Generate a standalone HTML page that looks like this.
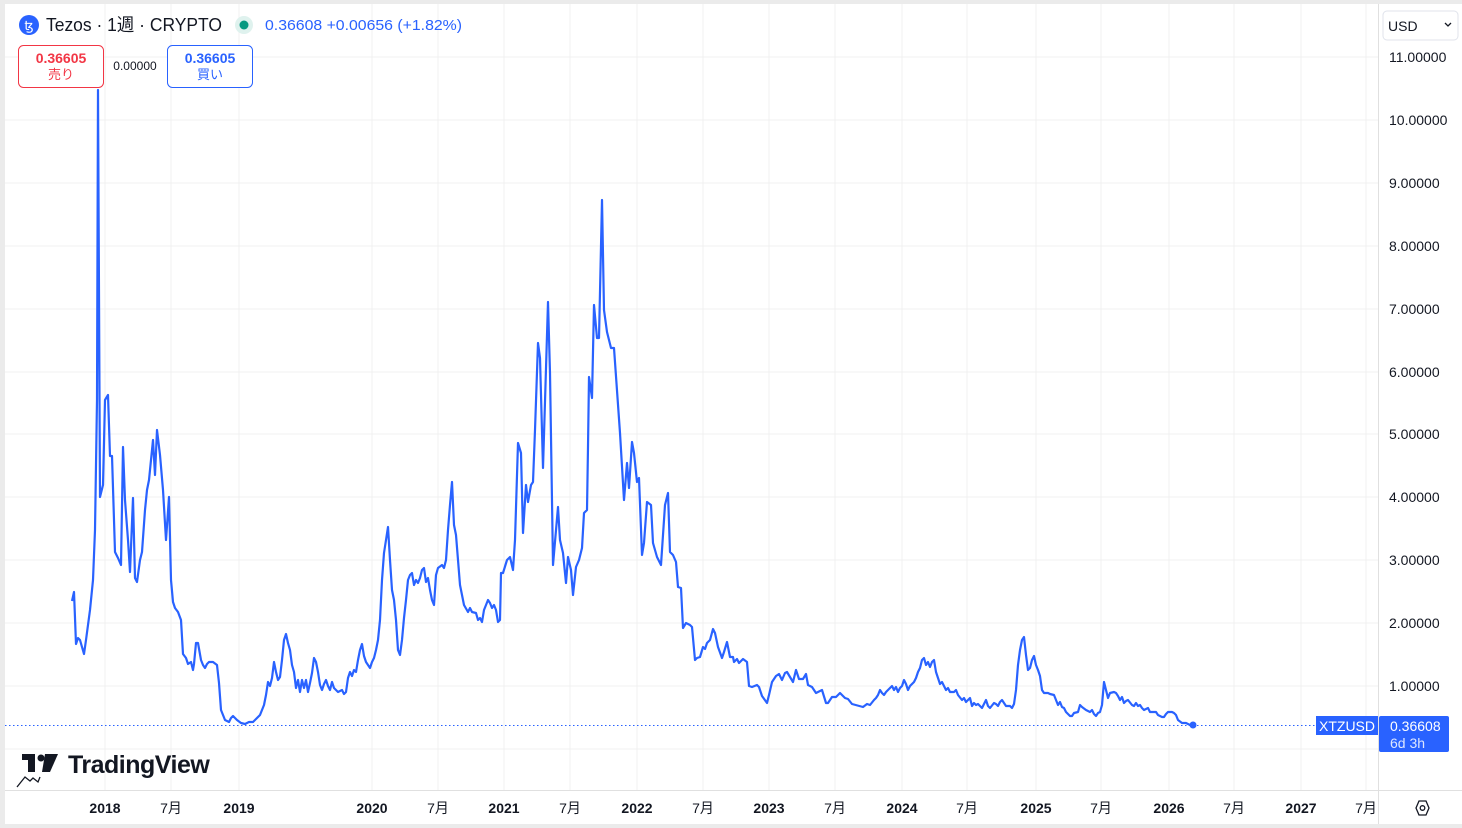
<!DOCTYPE html>
<html><head><meta charset="utf-8"><style>
*{margin:0;padding:0;box-sizing:border-box}
body{width:1462px;height:828px;background:#ebebeb;overflow:hidden;font-family:"Liberation Sans","Noto Sans CJK JP",sans-serif;position:relative}
.panel{position:absolute;left:5px;top:4px;width:1457px;height:820px;background:#fff}
</style></head><body>
<div class="panel"></div>
<svg width="1462" height="828" style="position:absolute;left:0;top:0" font-family="Liberation Sans, Noto Sans CJK JP, sans-serif">
<g stroke="#f0f0f0" stroke-width="1">
<line x1="5" x2="1378" y1="57" y2="57"/><line x1="5" x2="1378" y1="120" y2="120"/><line x1="5" x2="1378" y1="183" y2="183"/><line x1="5" x2="1378" y1="246" y2="246"/><line x1="5" x2="1378" y1="309" y2="309"/><line x1="5" x2="1378" y1="372" y2="372"/><line x1="5" x2="1378" y1="434" y2="434"/><line x1="5" x2="1378" y1="497" y2="497"/><line x1="5" x2="1378" y1="560" y2="560"/><line x1="5" x2="1378" y1="623" y2="623"/><line x1="5" x2="1378" y1="686" y2="686"/><line x1="5" x2="1378" y1="749" y2="749"/>
<line x1="105" x2="105" y1="4" y2="790"/><line x1="171" x2="171" y1="4" y2="790"/><line x1="239" x2="239" y1="4" y2="790"/><line x1="372" x2="372" y1="4" y2="790"/><line x1="438" x2="438" y1="4" y2="790"/><line x1="504" x2="504" y1="4" y2="790"/><line x1="570" x2="570" y1="4" y2="790"/><line x1="637" x2="637" y1="4" y2="790"/><line x1="703" x2="703" y1="4" y2="790"/><line x1="769" x2="769" y1="4" y2="790"/><line x1="835" x2="835" y1="4" y2="790"/><line x1="902" x2="902" y1="4" y2="790"/><line x1="967" x2="967" y1="4" y2="790"/><line x1="1036" x2="1036" y1="4" y2="790"/><line x1="1101" x2="1101" y1="4" y2="790"/><line x1="1169" x2="1169" y1="4" y2="790"/><line x1="1234" x2="1234" y1="4" y2="790"/><line x1="1301" x2="1301" y1="4" y2="790"/><line x1="1366" x2="1366" y1="4" y2="790"/>
</g>
<line x1="5" x2="1462" y1="790.5" y2="790.5" stroke="#e0e0e0"/>
<line x1="1378.5" x2="1378.5" y1="4" y2="824" stroke="#e0e0e0"/>
<line x1="5" x2="1378" y1="725.5" y2="725.5" stroke="#2962ff" stroke-dasharray="1.5,2.5"/>
<polyline fill="none" stroke="#2962ff" stroke-width="2.2" stroke-linejoin="round" points="72,601 74,592 76,644 78,638 80,640 84,654 86,640 90,610 93,580 95,530 97,400 98,90 100,497 103,485 105,400 108,395 110,456 112,456 115,552 118,558 121,565 123,447 125,500 128,540 130,572 133,498 135,578 137,582 140,560 142,552 145,510 147,490 149,480 151,460 153,440 155,475 157,430 160,455 163,490 166,540 169,497 171,580 173,602 175,608 178,612 181,620 183,654 186,658 188,664 191,662 193,670 194,664 196,643 198,643 201,660 203,665 205,668 207,664 209,662 213,662 217,665 219,683 221,710 223,715 225,720 229,722 231,718 233,716 237,720 241,723 245,724 249,722 253,722 257,718 260,715 262,710 264,705 266,695 268,682 270,686 272,678 274,662 276,672 278,680 280,677 282,660 284,640 286,634 288,643 290,650 292,665 294,672 296,688 298,680 300,692 302,680 304,688 306,680 308,692 310,683 312,673 314,658 316,662 318,672 320,685 322,690 324,684 326,680 328,686 330,690 332,682 334,688 338,692 342,690 344,694 346,692 348,678 350,672 352,676 354,670 356,672 358,660 360,650 362,644 364,656 366,662 370,668 372,662 374,658 376,650 378,640 380,620 382,580 384,553 386,540 388,527 390,560 392,590 394,600 396,620 398,650 400,655 402,640 404,618 406,600 408,580 410,575 412,573 414,585 416,580 418,583 420,578 422,570 424,568 426,582 428,578 430,590 432,600 434,605 436,575 438,568 442,565 444,568 446,560 448,530 450,505 452,482 454,525 456,535 458,560 460,585 462,595 464,605 468,612 470,608 472,612 476,613 478,620 480,618 482,622 484,610 488,600 490,603 492,608 494,605 496,610 498,622 500,620 501,573 503,573 507,560 510,557 513,570 515,540 518,443 521,453 523,533 526,485 528,502 531,485 533,482 535,430 538,343 540,358 543,468 548,302 550,373 553,565 558,507 560,540 563,553 566,583 568,557 571,570 573,595 576,567 579,560 582,548 584,513 587,510 588,447 589,377 592,398 594,305 597,338 599,338 602,200 604,310 607,332 611,348 614,348 620,433 624,500 627,463 629,488 632,442 634,453 637,482 639,478 642,555 644,543 647,502 651,505 653,543 657,557 661,565 665,505 668,493 670,552 673,555 676,562 678,587 681,588 683,628 686,623 690,625 692,627 695,660 697,658 700,657 703,647 705,649 707,643 710,640 713,629 715,633 718,647 722,658 724,652 727,642 730,657 733,657 734,662 737,659 739,663 743,659 747,662 749,686 752,687 757,685 759,687 762,696 767,703 769,695 772,682 776,676 779,674 782,680 785,673 787,672 793,682 796,670 799,679 803,679 806,674 808,685 812,687 816,693 818,692 822,690 826,703 828,703 832,697 836,697 840,693 845,698 848,699 852,704 863,707 867,704 870,705 874,700 876,698 878,695 880,690 882,693 884,695 886,692 890,688 892,686 894,690 896,687 898,692 900,688 902,686 904,680 906,684 908,690 910,686 914,682 916,678 918,672 920,668 922,660 924,658 926,665 928,662 930,667 932,662 934,660 936,672 938,678 940,684 942,682 944,686 946,690 948,688 950,692 954,692 956,690 958,695 962,700 964,698 966,702 970,698 972,706 974,703 976,705 978,704 982,708 984,704 986,700 988,706 990,708 994,703 996,704 998,706 1000,702 1002,700 1004,703 1006,706 1010,706 1012,708 1014,704 1016,690 1018,665 1020,650 1022,640 1024,637 1026,655 1028,670 1030,668 1032,660 1034,656 1036,665 1038,670 1040,676 1042,690 1044,693 1048,693 1050,694 1054,695 1056,700 1058,705 1060,702 1062,707 1064,708 1066,712 1070,716 1072,716 1074,713 1078,712 1080,705 1082,707 1086,710 1090,712 1092,710 1094,714 1096,716 1098,713 1100,712 1102,705 1104,682 1106,690 1108,698 1110,693 1114,692 1116,693 1118,696 1120,700 1122,697 1124,703 1126,701 1128,700 1132,705 1134,706 1136,703 1138,706 1140,705 1142,708 1144,710 1148,708 1150,712 1156,712 1158,715 1162,717 1164,717 1166,714 1168,712 1172,712 1174,713 1176,715 1178,720 1182,723 1186,723 1190,725 1193,725"/>
<circle cx="1193" cy="725" r="3.5" fill="#2962ff"/>
<g font-size="14" fill="#131722" text-anchor="start">
<text x="1389" y="62">11.00000</text><text x="1389" y="125">10.00000</text><text x="1389" y="188">9.00000</text><text x="1389" y="251">8.00000</text><text x="1389" y="314">7.00000</text><text x="1389" y="377">6.00000</text><text x="1389" y="439">5.00000</text><text x="1389" y="502">4.00000</text><text x="1389" y="565">3.00000</text><text x="1389" y="628">2.00000</text><text x="1389" y="691">1.00000</text>
</g>
<g font-size="14" fill="#131722" text-anchor="middle">
<text x="105" y="813" font-weight="bold">2018</text><text x="171" y="813">7月</text><text x="239" y="813" font-weight="bold">2019</text><text x="372" y="813" font-weight="bold">2020</text><text x="438" y="813">7月</text><text x="504" y="813" font-weight="bold">2021</text><text x="570" y="813">7月</text><text x="637" y="813" font-weight="bold">2022</text><text x="703" y="813">7月</text><text x="769" y="813" font-weight="bold">2023</text><text x="835" y="813">7月</text><text x="902" y="813" font-weight="bold">2024</text><text x="967" y="813">7月</text><text x="1036" y="813" font-weight="bold">2025</text><text x="1101" y="813">7月</text><text x="1169" y="813" font-weight="bold">2026</text><text x="1234" y="813">7月</text><text x="1301" y="813" font-weight="bold">2027</text><text x="1366" y="813">7月</text>
</g>
<polygon points="1416,808 1419,801 1426,801 1429,808 1426,815 1419,815" fill="none" stroke="#131722" stroke-width="1.3"/>
<circle cx="1422.5" cy="808" r="2.3" fill="none" stroke="#131722" stroke-width="1.3"/>
<rect x="1316" y="716" width="62" height="19" fill="#2962ff"/>
<text x="1347" y="731" font-size="14" fill="#fff" text-anchor="middle">XTZUSD</text>
<rect x="1379" y="716" width="70" height="36" rx="2" fill="#2962ff"/>
<text x="1390" y="731" font-size="14" fill="#fff">0.36608</text>
<text x="1390" y="748" font-size="14" fill="#dde6ff">6d 3h</text>
<rect x="1383" y="11" width="75" height="29" rx="4" fill="#fff" stroke="#e0e3eb"/>
<text x="1388" y="31" font-size="14" fill="#131722">USD</text>
<path d="M1445,23 l3,3 l3,-3" fill="none" stroke="#131722" stroke-width="1.3"/>
<circle cx="29" cy="25" r="10" fill="#2962ff"/>
<text x="29" y="30" font-size="13" fill="#fff" text-anchor="middle">ꜩ</text>
<text x="46" y="31" font-size="18" fill="#131722" textLength="176" lengthAdjust="spacingAndGlyphs">Tezos · 1週 · CRYPTO</text>
<circle cx="244" cy="25" r="9" fill="#dff2ee"/><circle cx="244" cy="25" r="4.5" fill="#089981"/>
<text x="265" y="30" font-size="15" fill="#2962ff" textLength="197" lengthAdjust="spacingAndGlyphs">0.36608  +0.00656 (+1.82%)</text>
<rect x="18.5" y="45.5" width="85" height="42" rx="5" fill="#fff" stroke="#f23645"/>
<text x="61" y="63" font-size="14" font-weight="bold" fill="#f23645" text-anchor="middle">0.36605</text>
<text x="61" y="79" font-size="13" fill="#f23645" text-anchor="middle">売り</text>
<text x="135" y="70" font-size="12" fill="#131722" text-anchor="middle">0.00000</text>
<rect x="167.5" y="45.5" width="85" height="42" rx="5" fill="#fff" stroke="#2962ff"/>
<text x="210" y="63" font-size="14" font-weight="bold" fill="#2962ff" text-anchor="middle">0.36605</text>
<text x="210" y="79" font-size="13" fill="#2962ff" text-anchor="middle">買い</text>
<g fill="#131722">
<rect x="22" y="754" width="13" height="6"/><rect x="28" y="754" width="7" height="18"/>
<circle cx="41" cy="758" r="3.5"/><polygon points="45,754 58,754 50,772 42,772"/>
</g>
<path d="M17,787 l8,-10 l5,4 l3,-3 l5,4 l2,-5" fill="none" stroke="#131722" stroke-width="1.3"/>
<text x="68" y="773" font-size="25" font-weight="bold" fill="#131722" letter-spacing="-0.5">TradingView</text>
</svg>
</body></html>
